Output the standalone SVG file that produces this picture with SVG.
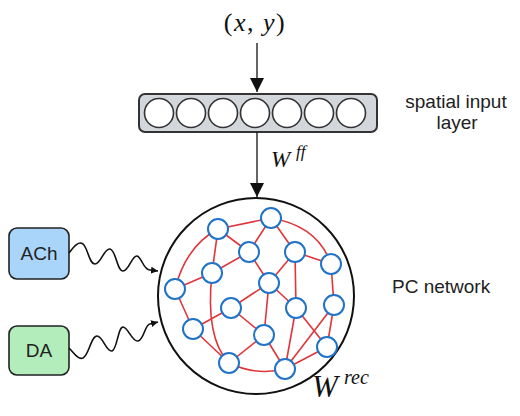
<svg xmlns="http://www.w3.org/2000/svg" width="520" height="416" viewBox="0 0 520 416">
<style>
.lbl{font-family:"Liberation Sans",Arial,sans-serif;font-size:19px;fill:#222}
.math{font-family:"Liberation Serif","Times New Roman",serif;fill:#111}
.it{font-style:italic}
.unit{fill:#fff;stroke:#333;stroke-width:1.6}
.pc{fill:#fff;stroke:#1f73c9;stroke-width:2}
.syn{fill:none;stroke:#e0353a;stroke-width:1.6}
.arrow{fill:none;stroke:#111;stroke-width:1.3}
.wave{fill:none;stroke:#111;stroke-width:1.6}
</style>
<defs>
<marker id="ah" markerUnits="userSpaceOnUse" markerWidth="14" markerHeight="15" refX="14" refY="7" orient="auto">
<path d="M0,0 L14,7 L0,14 Z" fill="#111"/>
</marker>
<marker id="sm" markerUnits="userSpaceOnUse" markerWidth="7" markerHeight="7" refX="7" refY="3.5" orient="auto">
<path d="M0,0 L7,3.5 L0,7 Z" fill="#111"/>
</marker>
</defs>

<g id="input-label">
<text class="math" x="255" y="31" font-size="26" text-anchor="middle" letter-spacing="1.5">(<tspan class="it">x</tspan>, <tspan class="it">y</tspan>)</text>
</g>

<g id="input-layer">
<rect x="139" y="94" width="238" height="38" rx="6" fill="#d3d6db" stroke="#333" stroke-width="2"/>
<circle class="unit" cx="159" cy="113" r="14.5"/>
<circle class="unit" cx="191" cy="113" r="14.5"/>
<circle class="unit" cx="223" cy="113" r="14.5"/>
<circle class="unit" cx="255" cy="113" r="14.5"/>
<circle class="unit" cx="287" cy="113" r="14.5"/>
<circle class="unit" cx="319" cy="113" r="14.5"/>
<circle class="unit" cx="351" cy="113" r="14.5"/>
</g>
<text class="lbl" x="456" y="108" text-anchor="middle">spatial input</text>
<text class="lbl" x="457" y="129" text-anchor="middle">layer</text>

<g id="ach">
<rect x="9" y="228" width="60" height="51" rx="8" fill="#a9d5fa" stroke="#222" stroke-width="1.6"/>
<text class="lbl" x="39" y="260" text-anchor="middle">ACh</text>
</g>
<g id="da">
<rect x="9" y="326" width="60" height="49" rx="8" fill="#b2edbb" stroke="#222" stroke-width="1.6"/>
<text class="lbl" x="39" y="357" text-anchor="middle">DA</text>
</g>

<g id="pc-network">
<circle cx="256" cy="296" r="98" fill="#fff" stroke="#111" stroke-width="2"/>
<g id="synapses">
<path class="syn" d="M218,229 L271,218"/>
<path class="syn" d="M218,229 L249,252"/>
<path class="syn" d="M218,229 L212,273"/>
<path class="syn" d="M218,229 Q186,246 175,289"/>
<path class="syn" d="M271,218 L249,252"/>
<path class="syn" d="M271,218 L295,252"/>
<path class="syn" d="M271,218 Q318,226 331,264"/>
<path class="syn" d="M249,252 L212,273"/>
<path class="syn" d="M249,252 L269,283"/>
<path class="syn" d="M295,252 L269,283"/>
<path class="syn" d="M295,252 L331,264"/>
<path class="syn" d="M295,252 L296,308"/>
<path class="syn" d="M331,264 L334,305"/>
<path class="syn" d="M212,273 L175,289"/>
<path class="syn" d="M212,273 Q205,338 229,363"/>
<path class="syn" d="M269,283 L231,308"/>
<path class="syn" d="M269,283 L296,308"/>
<path class="syn" d="M269,283 L264,335"/>
<path class="syn" d="M175,289 L193,329"/>
<path class="syn" d="M193,329 L231,308"/>
<path class="syn" d="M193,329 L229,363"/>
<path class="syn" d="M231,308 L264,335"/>
<path class="syn" d="M264,335 L229,363"/>
<path class="syn" d="M264,335 L285,369"/>
<path class="syn" d="M229,363 Q256,376 285,369"/>
<path class="syn" d="M296,308 L285,369"/>
<path class="syn" d="M296,308 L327,347"/>
<path class="syn" d="M334,305 L285,369"/>
<path class="syn" d="M334,305 L327,347"/>
<path class="syn" d="M327,347 L285,369"/>
</g>
<g id="cells">
<circle class="pc" cx="218" cy="229" r="10"/>
<circle class="pc" cx="271" cy="218" r="10"/>
<circle class="pc" cx="249" cy="252" r="10"/>
<circle class="pc" cx="295" cy="252" r="10"/>
<circle class="pc" cx="331" cy="264" r="10"/>
<circle class="pc" cx="212" cy="273" r="10"/>
<circle class="pc" cx="269" cy="283" r="10"/>
<circle class="pc" cx="175" cy="289" r="10"/>
<circle class="pc" cx="231" cy="308" r="10"/>
<circle class="pc" cx="296" cy="308" r="10"/>
<circle class="pc" cx="334" cy="305" r="10"/>
<circle class="pc" cx="193" cy="329" r="10"/>
<circle class="pc" cx="264" cy="335" r="10"/>
<circle class="pc" cx="327" cy="347" r="10"/>
<circle class="pc" cx="229" cy="363" r="10"/>
<circle class="pc" cx="285" cy="369" r="10"/>
</g>
</g>
<text class="lbl" x="392" y="293">PC network</text>

<g id="connectors">
<path class="arrow" d="M257,43 L257,92" marker-end="url(#ah)"/>
<path class="arrow" d="M257,132 L257,197" marker-end="url(#ah)"/>
<path class="wave" d="M69,253 C75,245 79,241 83,244 C88,248 89,264 95,264 C101,264 104,248 110,249 C116,250 117,271 123,271 C129,271 132,255 137,256 C142,257 143,270 150,270 L158,271" marker-end="url(#sm)"/>
<path class="wave" d="M69,348 C74,353 78,360 83,358 C89,355 91,336 97,336 C103,336 106,352 112,351 C117,350 118,327 123,327 C128,327 132,342 138,341 C144,340 145,324 150,324 L158,322" marker-end="url(#sm)"/>
</g>

<g id="weight-labels">
<text class="math it" x="271" y="167" font-size="23">W</text>
<text class="math it" x="296" y="157" font-size="17">ff</text>
<text class="math it" x="312" y="397" font-size="31">W</text>
<text class="math it" x="344" y="384" font-size="20">rec</text>
</g>
</svg>
